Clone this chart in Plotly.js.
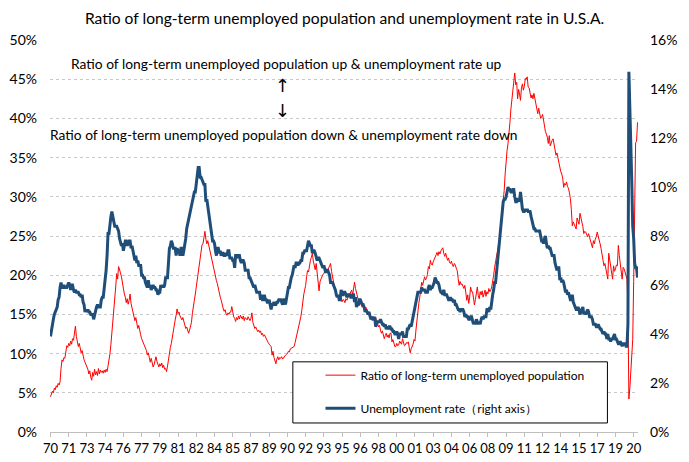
<!DOCTYPE html>
<html>
<head>
<meta charset="utf-8">
<script src="https://cdn.plot.ly/plotly-3.0.1.min.js"></script>
<style>
html,body{margin:0;padding:0;background:#fff;}
#chart{width:689px;height:462px;}
</style>
</head>
<body>
<div id="chart"></div>
<script>
// Tick labels (every 19th month starting Jan 1970)
var tickLabels = ["70","71","73","74","76","77","79","81","82","84","85","87","89","90","92","93","95","96","98","00","01","03","04","06","08","09","11","12","14","15","17","19","20"];
var tickStep = 19;

// Ratio of long-term unemployed population (%), monthly Jan 1970 - Jan 2021
var longTermRatio = [
/*1970*/ 4.5,4.8,5.2,5.0,5.6,5.4,5.9,5.7,6.2,6.0,6.4,8.1,
/*1971*/ 9.2,9.0,9.5,9.4,10.2,11.0,10.8,11.3,11.0,11.6,11.2,11.9,
/*1972*/ 11.7,12.4,13.5,12.2,11.5,10.9,11.3,10.6,10.1,10.4,9.6,9.2,
/*1973*/ 8.9,8.6,8.3,8.0,7.4,7.8,7.0,6.6,7.6,7.1,8.0,7.3,
/*1974*/ 7.7,7.2,8.1,7.4,7.9,7.6,7.8,7.5,7.9,7.6,8.0,7.7,
/*1975*/ 8.4,9.1,10.0,11.2,12.5,13.9,15.6,17.1,18.5,20.2,19.5,21.1,
/*1976*/ 20.8,20.3,19.8,18.9,18.2,17.6,17.2,16.5,17.0,16.3,16.8,17.6,
/*1977*/ 16.4,15.9,15.5,14.9,14.2,14.6,13.8,13.2,13.6,12.7,12.4,11.9,
/*1978*/ 11.6,11.3,11.0,10.7,10.4,9.8,10.1,9.5,8.9,9.4,8.8,8.3,
/*1979*/ 8.6,9.2,9.6,9.0,8.5,8.3,8.7,8.4,8.8,8.2,8.5,8.0,
/*1980*/ 8.1,7.7,8.4,9.4,10.0,10.8,11.3,12.2,12.8,13.9,14.3,14.9,
/*1981*/ 15.7,15.1,15.3,14.8,14.5,14.3,14.6,14.1,13.8,13.2,13.4,12.9,
/*1982*/ 12.6,13.0,13.4,14.0,15.2,15.8,16.8,17.6,18.5,19.6,20.1,21.4,
/*1983*/ 22.5,23.4,23.9,24.0,24.9,25.6,24.6,24.0,24.4,23.8,23.6,23.0,
/*1984*/ 22.3,21.6,21.0,20.2,19.8,19.3,18.9,18.2,17.6,17.2,16.8,16.0,
/*1985*/ 15.8,15.4,15.6,15.1,14.9,15.2,15.0,15.3,15.3,16.0,15.1,14.7,
/*1986*/ 14.5,14.1,14.6,14.3,14.8,14.4,14.9,14.7,14.4,14.8,14.2,14.6,
/*1987*/ 14.5,14.3,14.7,14.5,14.2,14.5,15.2,14.0,13.6,13.2,13.4,12.9,
/*1988*/ 12.8,13.0,12.7,12.9,12.4,12.6,12.2,12.4,12.1,11.9,11.7,11.4,
/*1989*/ 11.2,11.0,10.9,9.8,10.3,9.5,9.2,8.7,9.3,9.6,9.2,9.5,
/*1990*/ 9.4,9.6,9.3,9.5,9.6,9.8,9.9,10.0,10.3,10.2,10.6,10.7,
/*1991*/ 10.8,10.9,10.9,11.4,11.9,12.4,12.9,13.5,14.1,14.7,15.5,16.8,
/*1992*/ 17.5,18.1,18.7,19.8,20.6,20.4,21.5,21.9,22.3,22.8,21.8,21.3,
/*1993*/ 20.7,21.5,20.2,19.4,18.0,19.2,19.6,19.9,20.1,20.2,20.5,20.4,
/*1994*/ 20.8,20.6,21.0,21.2,21.5,20.5,19.8,19.2,18.5,17.9,17.6,17.3,
/*1995*/ 17.2,17.0,16.8,17.1,16.6,16.9,16.8,16.5,17.0,16.8,17.2,17.4,
/*1996*/ 17.6,17.9,18.1,17.5,18.4,19.1,18.3,17.9,17.2,16.8,16.2,16.5,
/*1997*/ 16.2,15.9,16.1,15.8,15.5,15.9,15.2,15.4,14.9,15.1,14.6,14.3,
/*1998*/ 14.7,14.5,14.3,14.6,14.0,13.8,13.4,13.6,13.0,12.6,12.9,12.4,
/*1999*/ 11.9,12.3,12.6,12.1,12.4,12.0,12.6,12.6,11.5,11.8,11.3,10.9,
/*2000*/ 10.9,11.3,11.0,11.1,11.6,11.4,11.2,11.9,11.5,11.0,11.1,11.4,
/*2001*/ 11.3,11.5,10.8,10.1,10.6,10.9,11.2,11.8,11.6,13.0,14.5,15.4,
/*2002*/ 16.4,17.2,17.9,19.1,18.7,19.6,19.8,19.4,19.6,20.1,21.1,20.8,
/*2003*/ 21.9,21.4,21.3,21.7,22.1,22.3,22.6,22.9,22.5,23.0,22.7,23.1,
/*2004*/ 23.3,23.5,22.8,22.4,22.8,22.1,21.9,22.2,21.6,21.5,21.8,21.3,
/*2005*/ 21.1,21.5,21.3,20.9,20.6,19.6,18.7,19.2,18.8,18.9,18.4,18.3,
/*2006*/ 18.7,17.8,16.8,17.5,16.4,17.2,18.5,17.9,17.9,17.1,16.2,16.9,
/*2007*/ 17.8,18.5,17.4,17.0,17.9,17.5,18.0,17.2,17.6,18.1,17.3,17.9,
/*2008*/ 17.6,18.3,17.9,18.1,18.5,19.1,20.0,21.0,21.8,22.4,22.9,23.6,
/*2009*/ 24.5,25.9,27.0,28.5,29.7,30.8,32.9,34.8,35.9,36.8,38.9,39.5,
/*2010*/ 41.2,42.3,43.4,44.6,45.8,44.3,44.6,42.5,43.7,43.1,42.3,43.9,
/*2011*/ 44.4,43.6,44.1,45.1,45.0,45.3,44.0,43.9,43.2,42.6,43.0,42.5,
/*2012*/ 43.2,42.4,41.6,41.0,40.6,41.3,40.8,40.0,40.2,40.5,39.8,38.9,
/*2013*/ 38.3,38.0,37.6,36.8,37.8,36.5,37.0,37.2,37.4,36.7,35.9,35.3,
/*2014*/ 35.6,34.9,34.6,33.7,33.2,32.9,32.4,31.2,31.7,31.5,31.9,31.3,
/*2015*/ 31.1,30.5,29.8,28.4,26.3,26.8,26.5,26.3,25.9,27.3,26.8,26.5,
/*2016*/ 27.9,27.4,27.1,26.2,25.3,25.6,25.5,25.1,24.9,25.3,24.8,24.4,
/*2017*/ 23.8,23.5,24.4,24.0,24.6,24.9,25.5,25.1,24.7,24.0,23.4,22.6,
/*2018*/ 21.9,21.2,21.5,20.8,20.3,19.5,22.8,22.0,21.4,20.6,19.5,21.2,
/*2019*/ 20.5,20.8,21.3,21.2,23.8,22.5,21.6,20.8,19.5,21.0,20.8,20.4,
/*2020*/ 19.8,19.5,16.2,4.2,5.6,8.1,9.7,11.8,19.2,32.5,36.9,37.1,
/*2021*/ 39.5
];

// Unemployment rate (%), monthly Jan 1970 - Jan 2021 (right axis)
var unemploymentRate = [
/*1970*/ 3.9,4.2,4.4,4.6,4.8,4.9,5.0,5.1,5.4,5.5,5.9,6.1,
/*1971*/ 5.9,5.9,6.0,5.9,5.9,5.9,6.0,6.1,6.0,5.8,6.0,6.0,
/*1972*/ 5.8,5.7,5.8,5.7,5.7,5.7,5.6,5.6,5.5,5.6,5.3,5.2,
/*1973*/ 4.9,5.0,4.9,5.0,4.9,4.9,4.8,4.8,4.8,4.6,4.8,4.9,
/*1974*/ 5.1,5.2,5.1,5.1,5.1,5.4,5.5,5.5,5.9,6.0,6.6,7.2,
/*1975*/ 8.1,8.1,8.6,8.8,9.0,8.8,8.6,8.4,8.4,8.4,8.3,8.2,
/*1976*/ 7.9,7.7,7.6,7.7,7.4,7.6,7.8,7.8,7.6,7.7,7.8,7.8,
/*1977*/ 7.5,7.6,7.4,7.2,7.0,7.2,6.9,7.0,6.8,6.8,6.8,6.4,
/*1978*/ 6.4,6.3,6.3,6.1,6.0,5.9,6.2,5.9,6.0,5.8,5.9,6.0,
/*1979*/ 5.9,5.9,5.8,5.8,5.6,5.7,5.7,6.0,5.9,6.0,5.9,6.0,
/*1980*/ 6.3,6.3,6.3,6.9,7.5,7.6,7.8,7.7,7.5,7.5,7.5,7.2,
/*1981*/ 7.5,7.4,7.4,7.2,7.5,7.5,7.2,7.4,7.6,7.9,8.3,8.5,
/*1982*/ 8.6,8.9,9.0,9.3,9.4,9.6,9.8,9.8,10.1,10.4,10.8,10.8,
/*1983*/ 10.4,10.4,10.3,10.2,10.1,10.1,9.4,9.5,9.2,8.8,8.5,8.3,
/*1984*/ 8.0,7.8,7.8,7.7,7.4,7.2,7.5,7.5,7.3,7.4,7.2,7.3,
/*1985*/ 7.3,7.2,7.2,7.3,7.2,7.4,7.4,7.1,7.1,7.1,7.0,7.0,
/*1986*/ 6.7,7.2,7.2,7.1,7.2,7.2,7.0,6.9,7.0,7.0,6.9,6.6,
/*1987*/ 6.6,6.6,6.6,6.3,6.3,6.2,6.1,6.0,5.9,6.0,5.8,5.7,
/*1988*/ 5.7,5.7,5.7,5.4,5.6,5.4,5.4,5.6,5.4,5.4,5.3,5.3,
/*1989*/ 5.4,5.2,5.0,5.2,5.2,5.3,5.2,5.2,5.3,5.3,5.4,5.4,
/*1990*/ 5.4,5.3,5.2,5.4,5.4,5.2,5.5,5.7,5.9,5.9,6.2,6.3,
/*1991*/ 6.4,6.6,6.8,6.7,6.9,6.9,6.8,6.9,6.9,7.0,7.0,7.3,
/*1992*/ 7.3,7.4,7.4,7.4,7.6,7.8,7.7,7.6,7.6,7.3,7.4,7.4,
/*1993*/ 7.3,7.1,7.0,7.1,7.1,7.0,6.9,6.8,6.7,6.8,6.6,6.5,
/*1994*/ 6.6,6.6,6.5,6.4,6.1,6.1,6.1,6.0,5.9,5.8,5.6,5.5,
/*1995*/ 5.6,5.4,5.4,5.8,5.6,5.6,5.7,5.7,5.6,5.5,5.6,5.6,
/*1996*/ 5.6,5.5,5.5,5.6,5.6,5.3,5.5,5.1,5.2,5.2,5.4,5.4,
/*1997*/ 5.3,5.2,5.2,5.1,4.9,5.0,4.9,4.8,4.9,4.7,4.6,4.7,
/*1998*/ 4.6,4.6,4.7,4.3,4.4,4.5,4.5,4.5,4.6,4.5,4.4,4.4,
/*1999*/ 4.3,4.4,4.2,4.3,4.2,4.3,4.3,4.2,4.2,4.1,4.1,4.0,
/*2000*/ 4.0,4.1,4.0,3.8,4.0,4.0,4.0,4.1,3.9,3.9,3.9,3.9,
/*2001*/ 4.2,4.2,4.3,4.4,4.3,4.5,4.6,4.9,5.0,5.3,5.5,5.7,
/*2002*/ 5.7,5.7,5.7,5.9,5.8,5.8,5.8,5.7,5.7,5.7,5.9,6.0,
/*2003*/ 5.8,5.9,5.9,6.0,6.1,6.3,6.2,6.1,6.1,6.0,5.8,5.7,
/*2004*/ 5.7,5.6,5.8,5.6,5.6,5.6,5.5,5.4,5.4,5.5,5.4,5.4,
/*2005*/ 5.3,5.4,5.2,5.2,5.1,5.0,5.0,4.9,5.0,5.0,5.0,4.9,
/*2006*/ 4.7,4.8,4.7,4.7,4.6,4.6,4.7,4.7,4.5,4.4,4.5,4.4,
/*2007*/ 4.6,4.5,4.4,4.5,4.4,4.6,4.7,4.6,4.7,4.7,4.7,5.0,
/*2008*/ 5.0,4.9,5.1,5.0,5.4,5.6,5.8,6.1,6.1,6.5,6.8,7.3,
/*2009*/ 7.8,8.3,8.7,9.0,9.4,9.5,9.5,9.6,9.8,10.0,9.9,9.9,
/*2010*/ 9.8,9.8,9.9,9.9,9.6,9.4,9.4,9.5,9.5,9.4,9.8,9.3,
/*2011*/ 9.1,9.0,9.0,9.1,9.0,9.1,9.0,9.0,9.0,8.8,8.6,8.5,
/*2012*/ 8.3,8.3,8.2,8.2,8.2,8.2,8.2,8.0,7.8,7.8,7.7,7.9,
/*2013*/ 8.0,7.7,7.5,7.6,7.5,7.5,7.3,7.2,7.2,7.2,6.9,6.7,
/*2014*/ 6.6,6.7,6.7,6.2,6.3,6.1,6.2,6.1,5.9,5.7,5.8,5.6,
/*2015*/ 5.7,5.5,5.4,5.4,5.6,5.3,5.2,5.1,5.0,5.0,5.1,5.0,
/*2016*/ 4.8,4.9,5.0,5.1,4.8,4.9,4.8,4.9,5.0,4.9,4.7,4.7,
/*2017*/ 4.7,4.6,4.4,4.4,4.4,4.3,4.3,4.4,4.3,4.2,4.2,4.1,
/*2018*/ 4.0,4.1,4.0,4.0,3.8,4.0,3.8,3.8,3.7,3.8,3.8,3.9,
/*2019*/ 4.0,3.8,3.8,3.7,3.6,3.6,3.7,3.6,3.5,3.6,3.6,3.6,
/*2020*/ 3.5,3.5,4.4,14.7,13.2,11.0,10.2,8.4,7.9,6.9,6.7,6.7,
/*2021*/ 6.3
];

var seriesNames = ["Ratio of long-term unemployed population", "Unemployment rate\uFF08right axis\uFF09"];

var FONT = "Lato, 'Liberation Sans', sans-serif";

var xIdx = longTermRatio.map(function(_, i){ return i; });
var tickVals = tickLabels.map(function(_, k){ return k * tickStep; });

var traces = [
  {
    x: xIdx, y: longTermRatio, yaxis: 'y', type: 'scatter', mode: 'lines',
    name: seriesNames[0], legendgroup: 'a',
    line: {color: '#FF0000', width: 1}
  },
  {
    x: xIdx, y: unemploymentRate, yaxis: 'y2', type: 'scatter', mode: 'lines',
    name: seriesNames[1], legendgroup: 'b',
    line: {color: '#1F4E79', width: 3}
  }
];

var layout = {
  width: 689, height: 462,
  margin: {l: 50, r: 51, t: 40, b: 30, pad: 0},
  paper_bgcolor: '#fff', plot_bgcolor: '#fff',
  font: {family: FONT, color: '#000', size: 14},
  title: {
    text: 'Ratio of long-term unemployed population and unemployment rate in U.S.A.',
    font: {family: FONT, size: 15.6, color: '#000'},
    x: 0.5, xanchor: 'center', y: 0.96, yanchor: 'middle', yref: 'container'
  },
  showlegend: true,
  legend: {
    x: 0.46, y: 0.182, xanchor: 'left', yanchor: 'top',
    bgcolor: 'rgba(0,0,0,0)', borderwidth: 0,
    font: {family: FONT, size: 12, color: '#000'},
    traceorder: 'grouped', tracegroupgap: 14, itemwidth: 30
  },
  xaxis: {
    range: [-0.5, longTermRatio.length - 0.5],
    tickmode: 'array', tickvals: tickVals, ticktext: tickLabels,
    showgrid: false, zeroline: false,
    showline: true, linecolor: '#BFBFBF', linewidth: 1,
    ticks: 'outside', ticklen: 4, tickcolor: '#BFBFBF',
    tickfont: {family: FONT, size: 13, color: '#000'},
    fixedrange: true
  },
  yaxis: {
    range: [0, 50], tickmode: 'linear', tick0: 0, dtick: 5,
    ticksuffix: '%',
    showgrid: true, gridcolor: '#C8C8C8', griddash: 'dot', gridwidth: 1,
    zeroline: false, showline: false, ticks: '',
    ticklabelstandoff: 12,
    tickfont: {family: FONT, size: 14, color: '#000'}
  },
  yaxis2: {
    range: [0, 16], tickmode: 'linear', tick0: 0, dtick: 2,
    ticksuffix: '%', overlaying: 'y', side: 'right',
    showgrid: false, zeroline: false, showline: false, ticks: '',
    ticklabelstandoff: 11,
    tickfont: {family: FONT, size: 14, color: '#000'}
  },
  shapes: [
    {type: 'rect', xref: 'paper', yref: 'paper', x0: 0.413, x1: 0.948, y0: 0.023, y1: 0.179,
     fillcolor: '#fff', line: {color: '#000', width: 1}, layer: 'above'}
  ],
  annotations: [
    {xref: 'paper', yref: 'paper', x: 0.0315, y: 0.941, xanchor: 'left', yanchor: 'middle', showarrow: false,
     text: 'Ratio of long-term unemployed population up & unemployment rate up', font: {family: FONT, size: 13.8}},
    {xref: 'paper', yref: 'paper', x: 0.396, y: 0.883, xanchor: 'center', yanchor: 'middle', showarrow: false,
     text: '\u2191', font: {family: 'DejaVu Sans', size: 18}},
    {xref: 'paper', yref: 'paper', x: 0.396, y: 0.821, xanchor: 'center', yanchor: 'middle', showarrow: false,
     text: '\u2193', font: {family: 'DejaVu Sans', size: 18}},
    {xref: 'paper', yref: 'paper', x: -0.0026, y: 0.760, xanchor: 'left', yanchor: 'middle', showarrow: false,
     text: 'Ratio of long-term unemployed population down & unemployment rate down', font: {family: FONT, size: 13.8}}
  ]
};

Plotly.newPlot('chart', traces, layout, {displayModeBar: false, staticPlot: true});
</script>
</body>
</html>
